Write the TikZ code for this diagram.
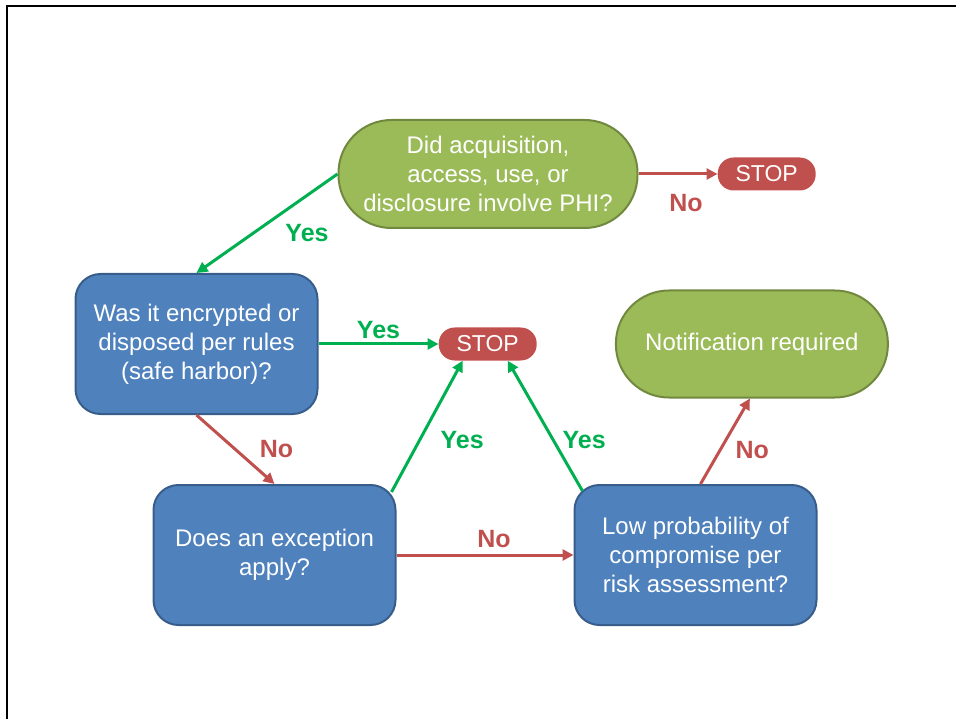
\documentclass[tikz,border=0pt]{standalone}
\usepackage{fontspec}
\setmainfont{Liberation Sans}
\usepackage{tikz}
\usetikzlibrary{positioning,arrows.meta}

\definecolor{phigreen}{HTML}{9BBB59}
\definecolor{phiedge}{HTML}{71893F}
\definecolor{askblue}{HTML}{4F81BD}
\definecolor{askedge}{HTML}{385D8A}
\definecolor{stopred}{HTML}{C0504D}
\definecolor{yesgreen}{HTML}{00B050}

\begin{document}
\begin{tikzpicture}[x=1pt, y=-1pt,
    boxfont/.style={font=\fontsize{24}{29}\selectfont},
    question/.style={rectangle, rounded corners=53pt, draw=phiedge, fill=phigreen, line width=2pt, text=white, align=center, boxfont},
    check/.style={rectangle, rounded corners=25pt, draw=askedge, fill=askblue, line width=2pt, text=white, minimum width=242pt, minimum height=140pt, align=center, boxfont},
    stopbox/.style={rectangle, rounded corners=16pt, fill=stopred, text=white, minimum width=98pt, minimum height=33pt, inner sep=0pt, font=\fontsize{23}{28}\selectfont},
    arrow/.style={-{Triangle[length=11pt,width=11pt]}, line width=3pt},
    yesarrow/.style={arrow, draw=yesgreen},
    noarrow/.style={arrow, draw=stopred},
    yeslabel/.style={text=yesgreen, font=\fontsize{25}{29}\selectfont\bfseries},
    nolabel/.style={text=stopred, font=\fontsize{25}{29}\selectfont\bfseries}]

    \useasboundingbox (0,0) rectangle (956,719);
    \draw[line width=2.5pt] (7,719) -- (7,6) -- (956,6);

    % Breach questions
    \node[question, minimum width=299pt, minimum height=108pt] (phi) at (488,174) {Did acquisition,\\access, use, or\\disclosure involve PHI?};
    \node[stopbox, right=79pt of phi] (stopA) {STOP};
    \node[check, below left=44pt and 19pt of phi] (safe) {Was it encrypted or\\disposed per rules\\(safe harbor)?};
    \node[stopbox, right=120pt of safe] (stopB) {STOP};
    \node[question, right=78pt of stopB, minimum width=272pt, minimum height=107pt] (notify) {Notification required};
    \node[check, below=69pt of safe, xshift=78pt] (exception) {Does an exception\\apply?};
    \node[check, right=177pt of exception] (risk) {Low probability of\\compromise per\\risk assessment?};

    % Connect the questions
    \draw[noarrow] (phi.east) -- node[nolabel, xshift=8pt, yshift=-29pt] {No} (stopA.west);
    \draw[yesarrow] (phi.west) -- node[yeslabel, xshift=40pt, yshift=-10pt] {Yes} (safe.north);
    \draw[yesarrow] (safe.east) -- node[yeslabel, yshift=14pt] {Yes} (stopB.west);
    \draw[noarrow] (safe.south) -- node[nolabel, xshift=41pt] {No} (exception.north);
    \draw[yesarrow] ([xshift=-5pt,yshift=-8pt]exception.north east) -- node[yeslabel, xshift=35pt, yshift=-14pt] {Yes} ([xshift=-25pt]stopB.south);
    \draw[noarrow] (exception.east) -- node[nolabel, xshift=9pt, yshift=16pt] {No} (risk.west);
    \draw[yesarrow] ([xshift=9pt,yshift=-7pt]risk.north west) -- node[yeslabel, xshift=39pt, yshift=-14pt] {Yes} ([xshift=20pt]stopB.south);
    \draw[noarrow] ([xshift=5pt]risk.north) -- node[nolabel, xshift=27pt, yshift=-9pt] {No} ([xshift=-2pt]notify.south);
\end{tikzpicture}
\end{document}
